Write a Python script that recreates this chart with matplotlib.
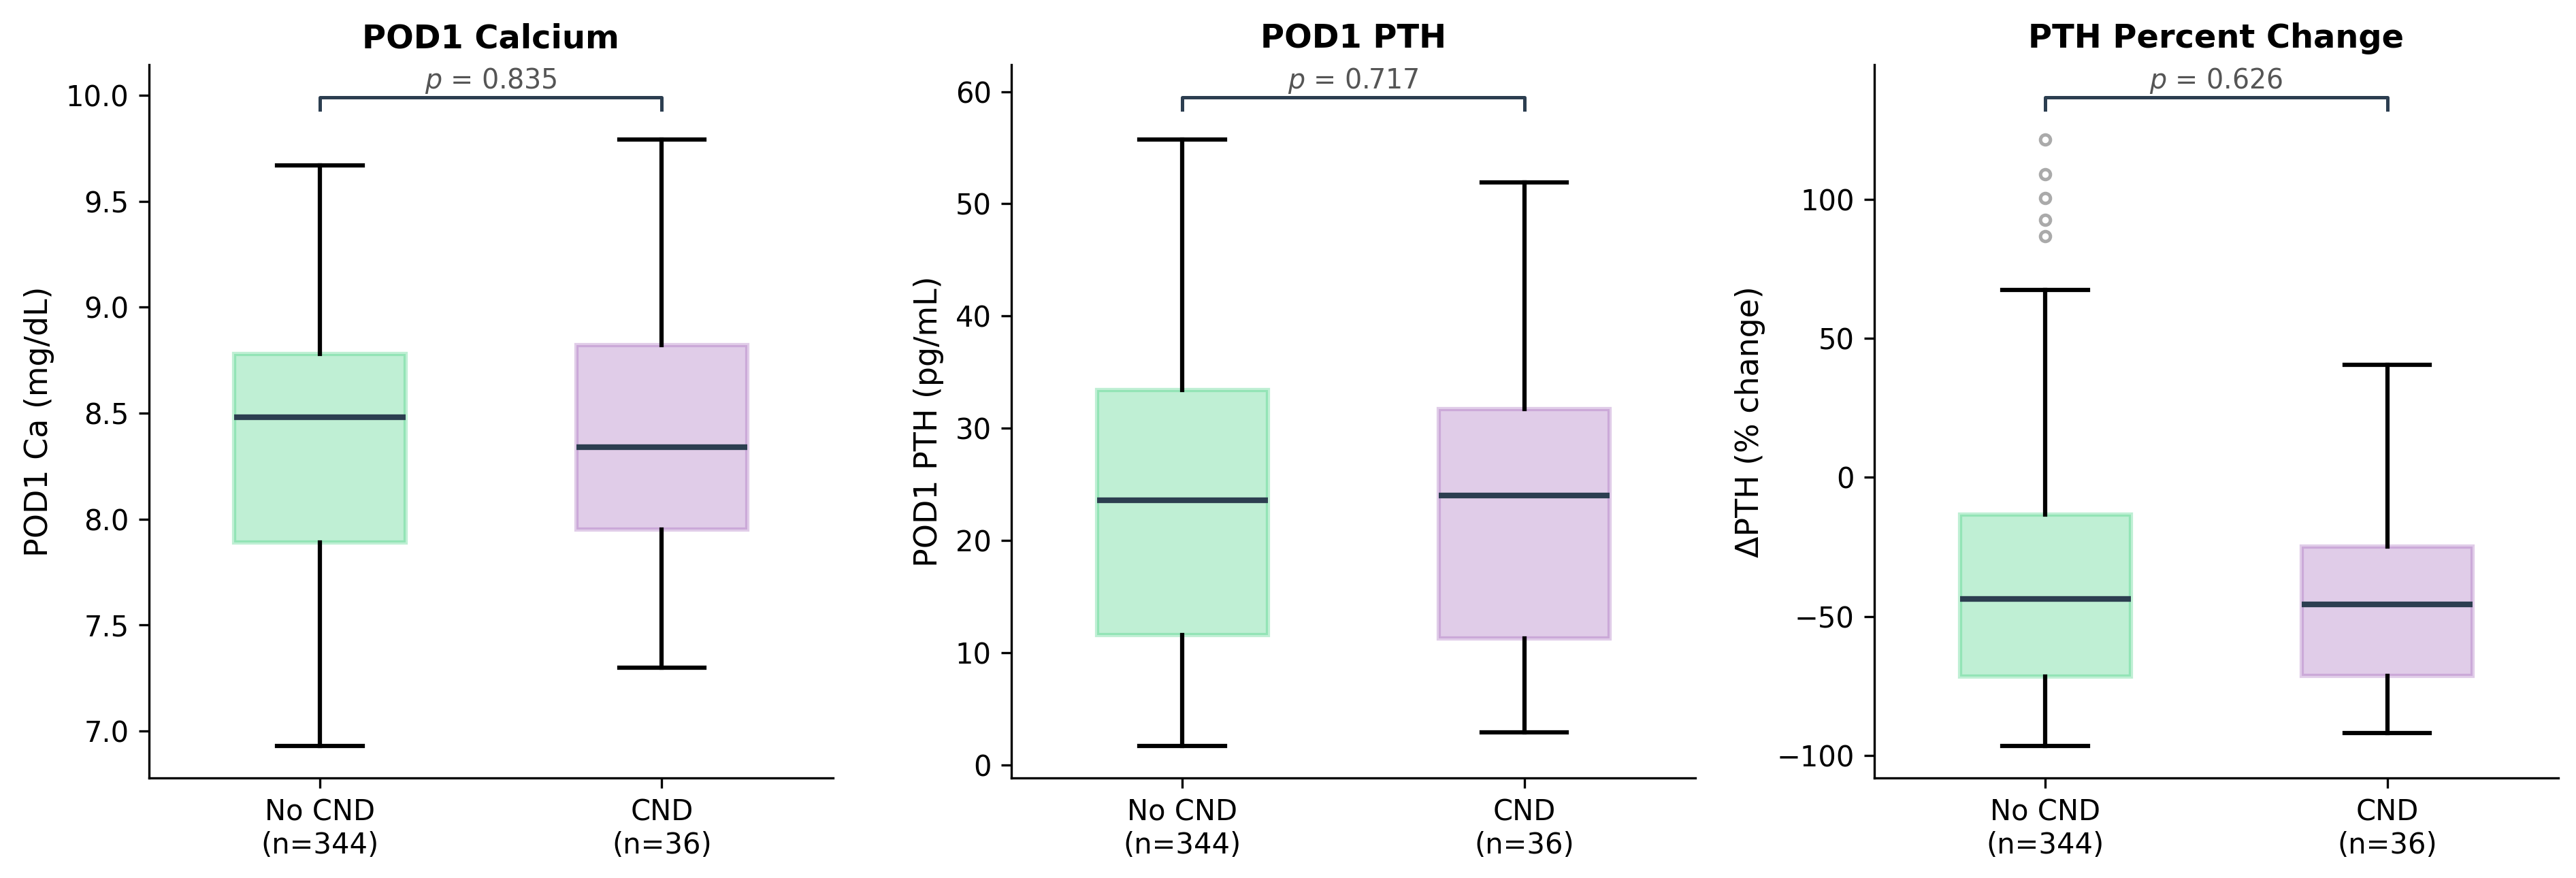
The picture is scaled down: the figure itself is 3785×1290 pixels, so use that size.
import matplotlib
matplotlib.use("Agg")
import matplotlib.pyplot as plt

# groups
groups = ["No CND", "CND"]
group_n = [344, 36]
group_colors = ["#2ecc71", "#9b59b6"]

# panel info
titles = ["POD1 Calcium", "POD1 PTH", "PTH Percent Change"]
ylabels = ["POD1 Ca (mg/dL)", "POD1 PTH (pg/mL)", "\u0394PTH (% change)"]
p_values = [0.835, 0.717, 0.626]

# box stats: [whislo, q1, median, q3, whishi]
ca_stats = [[6.93, 7.89, 8.48, 8.78, 9.67],
            [7.30, 7.95, 8.34, 8.82, 9.79]]
pth_stats = [[1.7, 11.6, 23.6, 33.4, 55.7],
             [2.9, 11.3, 24.0, 31.7, 51.9]]
dpth_stats = [[-96.6, -71.7, -43.7, -13.3, 67.5],
              [-92.1, -71.5, -45.8, -24.8, 40.5]]
panel_stats = [ca_stats, pth_stats, dpth_stats]

# outliers
ca_fliers = [[], []]
pth_fliers = [[], []]
dpth_fliers = [[86.9, 92.8, 100.5, 109.0, 121.5], []]
panel_fliers = [ca_fliers, pth_fliers, dpth_fliers]

plt.rcParams['font.family'] = ['DejaVu Sans']

fig = plt.figure(figsize=(12.62, 4.3), dpi=300)
lefts = [0.0578, 0.3925, 0.7274]

for k in range(3):
    ax = fig.add_axes([lefts[k], 0.1136, 0.2654, 0.8124])
    stats = []
    for s, fl, g, n in zip(panel_stats[k], panel_fliers[k], groups, group_n):
        stats.append({"whislo": s[0], "q1": s[1], "med": s[2], "q3": s[3],
                      "whishi": s[4], "fliers": fl, "label": f"{g}\n(n={n})"})
    bp = ax.bxp(stats, positions=[0, 1], widths=0.5, patch_artist=True,
                showfliers=True,
                medianprops=dict(color="#2c3e50", linewidth=2),
                whiskerprops=dict(color="black", linewidth=1.5),
                capprops=dict(color="black", linewidth=1.5),
                flierprops=dict(marker="o", markersize=3.5, markerfacecolor="none",
                                markeredgecolor="#aaaaaa", markeredgewidth=1.2))
    for patch, c in zip(bp["boxes"], group_colors):
        patch.set_facecolor(c)
        patch.set_edgecolor(c)
        patch.set_alpha(0.3)
        patch.set_linewidth(1.5)

    # significance bracket
    lows = [s[0] for s in panel_stats[k]]
    highs = [max([s[4]] + fl) for s, fl in zip(panel_stats[k], panel_fliers[k])]
    rng = max(highs) - min(lows)
    y = max(highs) + 0.05 * rng
    h = 0.02 * rng
    ax.plot([0, 0, 1, 1], [y, y + h, y + h, y], color="#2c3e50", linewidth=1.2)
    ax.text(0.5, y + h * 1.2, f"$p$ = {p_values[k]:.3f}", ha="center", va="bottom",
            fontsize=9.5, color="#555555")

    ax.set_xlim(-0.5, 1.5)
    ax.set_title(titles[k], fontsize=11.5, fontweight="bold")
    ax.set_ylabel(ylabels[k], fontsize=11)
    ax.tick_params(axis="both", labelsize=10)
    ax.spines["top"].set_visible(False)
    ax.spines["right"].set_visible(False)

fig.savefig("out.png", dpi=300)
